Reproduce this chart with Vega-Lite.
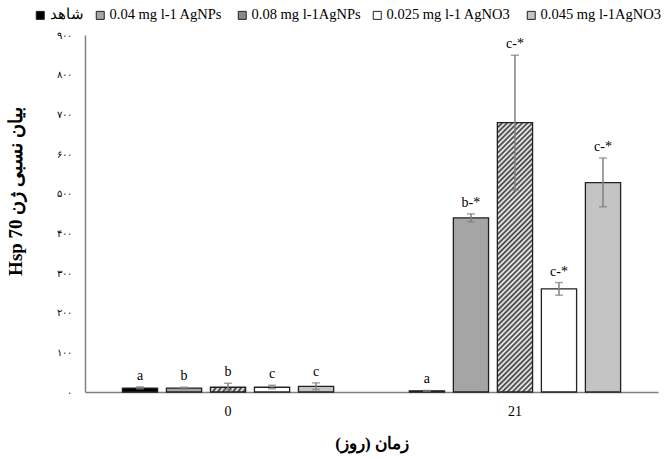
{
  "$schema": "https://vega.github.io/schema/vega-lite/v6.json",
  "width": 573,
  "height": 357,
  "autosize": "none",
  "padding": {"left": 85, "top": 35, "right": 9, "bottom": 67},
  "background": "white",
  "config": {"font": "Liberation Serif", "view": {"stroke": null}, "axisY": {"labelOverlap": false}, "axis": {"labelOverlap": false}},
  "data": {
    "values": [
      {"time": "0", "treatment": "شاهد", "mean": 10, "low": 8, "high": 13, "label": "a"},
      {"time": "0", "treatment": "0.04  mg l-1 AgNPs", "mean": 10, "low": 8, "high": 12, "label": "b"},
      {"time": "0", "treatment": "0.08 mg l-1AgNPs", "mean": 12, "low": 5, "high": 22, "label": "b"},
      {"time": "0", "treatment": "0.025  mg l-1 AgNO3", "mean": 12, "low": 8, "high": 17, "label": "c"},
      {"time": "0", "treatment": "0.045 mg l-1AgNO3", "mean": 14, "low": 6, "high": 23, "label": "c"},
      {"time": "21", "treatment": "شاهد", "mean": 3, "low": 2, "high": 4, "label": "a"},
      {"time": "21", "treatment": "0.04  mg l-1 AgNPs", "mean": 439, "low": 429, "high": 449, "label": "b-*"},
      {"time": "21", "treatment": "0.08 mg l-1AgNPs", "mean": 679, "low": 509, "high": 849, "label": "c-*"},
      {"time": "21", "treatment": "0.025  mg l-1 AgNO3", "mean": 260, "low": 244, "high": 276, "label": "c-*"},
      {"time": "21", "treatment": "0.045 mg l-1AgNO3", "mean": 528, "low": 467, "high": 590, "label": "c-*"}
    ]
  },
  "encoding": {
    "x": {
      "field": "time",
      "type": "nominal",
      "sort": ["0", "21"],
      "scale": {"paddingInner": 0.233, "paddingOuter": 0.115},
      "title": "\u202bزمان (روز)\u202c",
      "axis": {
        "labelAngle": 0,
        "domainColor": "#808080",
        "domainWidth": 1.5,
        "ticks": false,
        "labelFont": "Liberation Serif",
        "labelFontSize": 14,
        "labelPadding": 12,
        "labelColor": "#000",
        "titleFontSize": 17,
        "titleFontWeight": "bold",
        "titlePadding": 17,
        "titleColor": "#000"
      }
    },
    "xOffset": {
      "field": "treatment",
      "type": "nominal",
      "sort": ["شاهد", "0.04  mg l-1 AgNPs", "0.08 mg l-1AgNPs", "0.025  mg l-1 AgNO3", "0.045 mg l-1AgNO3"],
      "scale": {"paddingInner": 0.2, "paddingOuter": 0.1}
    },
    "y": {
      "type": "quantitative",
      "scale": {"domain": [0, 900], "nice": false},
      "title": "\u202bبیان نسبی ژن Hsp 70\u202c",
      "axis": {
        "values": [0, 100, 200, 300, 400, 500, 600, 700, 800, 900],
        "labelExpr": "['۰','۱۰۰','۲۰۰','۳۰۰','۴۰۰','۵۰۰','۶۰۰','۷۰۰','۸۰۰','۹۰۰'][round(datum.value/100)]",
        "labelOverlap": false,
        "grid": false,
        "ticks": false,
        "domainColor": "#808080",
        "domainWidth": 1.5,
        "labelFontSize": 10,
        "labelPadding": 14,
        "labelColor": "#000",
        "titleFontSize": 19,
        "titleFontWeight": "bold",
        "titleColor": "#000",
        "titleX": -60,
        "titleY": 156
      }
    }
  },
  "layer": [
    {
      "mark": {"type": "bar", "stroke": "#222", "strokeWidth": 1.3},
      "encoding": {
        "y": {"field": "mean"},
        "fill": {
          "field": "treatment",
          "type": "nominal",
          "sort": ["شاهد", "0.04  mg l-1 AgNPs", "0.08 mg l-1AgNPs", "0.025  mg l-1 AgNO3", "0.045 mg l-1AgNO3"],
          "scale": {
            "domain": ["شاهد", "0.04  mg l-1 AgNPs", "0.08 mg l-1AgNPs", "0.025  mg l-1 AgNO3", "0.045 mg l-1AgNO3"],
            "range": ["#000000", "#a5a5a5", "#888888", "#ffffff", "#c4c4c4"]
          },
          "legend": {
            "title": null,
            "orient": "none",
            "legendX": -52,
            "legendY": -27,
            "direction": "horizontal",
            "symbolType": "square",
            "symbolSize": 64,
            "symbolStrokeColor": "#222",
            "symbolStrokeWidth": 1,
            "labelFont": "Liberation Serif",
            "labelFontSize": 14.5,
            "labelColor": "#000",
            "labelOffset": 2,
            "labelLimit": 300,
            "columnPadding": 9
          },
          "condition": {
            "test": "datum.treatment === '0.08 mg l-1AgNPs'",
            "value": {
              "gradient": "linear",
              "x1": 0, "y1": 0, "x2": 0.1457, "y2": 1.112,
              "stops": [
                {"offset": 0, "color": "#333"}, {"offset": 0.0083, "color": "#fff"}, {"offset": 0.0167, "color": "#333"}, {"offset": 0.025, "color": "#fff"},
                {"offset": 0.0333, "color": "#333"}, {"offset": 0.0417, "color": "#fff"}, {"offset": 0.05, "color": "#333"}, {"offset": 0.0583, "color": "#fff"},
                {"offset": 0.0667, "color": "#333"}, {"offset": 0.075, "color": "#fff"}, {"offset": 0.0833, "color": "#333"}, {"offset": 0.0917, "color": "#fff"},
                {"offset": 0.1, "color": "#333"}, {"offset": 0.1083, "color": "#fff"}, {"offset": 0.1167, "color": "#333"}, {"offset": 0.125, "color": "#fff"},
                {"offset": 0.1333, "color": "#333"}, {"offset": 0.1417, "color": "#fff"}, {"offset": 0.15, "color": "#333"}, {"offset": 0.1583, "color": "#fff"},
                {"offset": 0.1667, "color": "#333"}, {"offset": 0.175, "color": "#fff"}, {"offset": 0.1833, "color": "#333"}, {"offset": 0.1917, "color": "#fff"},
                {"offset": 0.2, "color": "#333"}, {"offset": 0.2083, "color": "#fff"}, {"offset": 0.2167, "color": "#333"}, {"offset": 0.225, "color": "#fff"},
                {"offset": 0.2333, "color": "#333"}, {"offset": 0.2417, "color": "#fff"}, {"offset": 0.25, "color": "#333"}, {"offset": 0.2583, "color": "#fff"},
                {"offset": 0.2667, "color": "#333"}, {"offset": 0.275, "color": "#fff"}, {"offset": 0.2833, "color": "#333"}, {"offset": 0.2917, "color": "#fff"},
                {"offset": 0.3, "color": "#333"}, {"offset": 0.3083, "color": "#fff"}, {"offset": 0.3167, "color": "#333"}, {"offset": 0.325, "color": "#fff"},
                {"offset": 0.3333, "color": "#333"}, {"offset": 0.3417, "color": "#fff"}, {"offset": 0.35, "color": "#333"}, {"offset": 0.3583, "color": "#fff"},
                {"offset": 0.3667, "color": "#333"}, {"offset": 0.375, "color": "#fff"}, {"offset": 0.3833, "color": "#333"}, {"offset": 0.3917, "color": "#fff"},
                {"offset": 0.4, "color": "#333"}, {"offset": 0.4083, "color": "#fff"}, {"offset": 0.4167, "color": "#333"}, {"offset": 0.425, "color": "#fff"},
                {"offset": 0.4333, "color": "#333"}, {"offset": 0.4417, "color": "#fff"}, {"offset": 0.45, "color": "#333"}, {"offset": 0.4583, "color": "#fff"},
                {"offset": 0.4667, "color": "#333"}, {"offset": 0.475, "color": "#fff"}, {"offset": 0.4833, "color": "#333"}, {"offset": 0.4917, "color": "#fff"},
                {"offset": 0.5, "color": "#333"}, {"offset": 0.5083, "color": "#fff"}, {"offset": 0.5167, "color": "#333"}, {"offset": 0.525, "color": "#fff"},
                {"offset": 0.5333, "color": "#333"}, {"offset": 0.5417, "color": "#fff"}, {"offset": 0.55, "color": "#333"}, {"offset": 0.5583, "color": "#fff"},
                {"offset": 0.5667, "color": "#333"}, {"offset": 0.575, "color": "#fff"}, {"offset": 0.5833, "color": "#333"}, {"offset": 0.5917, "color": "#fff"},
                {"offset": 0.6, "color": "#333"}, {"offset": 0.6083, "color": "#fff"}, {"offset": 0.6167, "color": "#333"}, {"offset": 0.625, "color": "#fff"},
                {"offset": 0.6333, "color": "#333"}, {"offset": 0.6417, "color": "#fff"}, {"offset": 0.65, "color": "#333"}, {"offset": 0.6583, "color": "#fff"},
                {"offset": 0.6667, "color": "#333"}, {"offset": 0.675, "color": "#fff"}, {"offset": 0.6833, "color": "#333"}, {"offset": 0.6917, "color": "#fff"},
                {"offset": 0.7, "color": "#333"}, {"offset": 0.7083, "color": "#fff"}, {"offset": 0.7167, "color": "#333"}, {"offset": 0.725, "color": "#fff"},
                {"offset": 0.7333, "color": "#333"}, {"offset": 0.7417, "color": "#fff"}, {"offset": 0.75, "color": "#333"}, {"offset": 0.7583, "color": "#fff"},
                {"offset": 0.7667, "color": "#333"}, {"offset": 0.775, "color": "#fff"}, {"offset": 0.7833, "color": "#333"}, {"offset": 0.7917, "color": "#fff"},
                {"offset": 0.8, "color": "#333"}, {"offset": 0.8083, "color": "#fff"}, {"offset": 0.8167, "color": "#333"}, {"offset": 0.825, "color": "#fff"},
                {"offset": 0.8333, "color": "#333"}, {"offset": 0.8417, "color": "#fff"}, {"offset": 0.85, "color": "#333"}, {"offset": 0.8583, "color": "#fff"},
                {"offset": 0.8667, "color": "#333"}, {"offset": 0.875, "color": "#fff"}, {"offset": 0.8833, "color": "#333"}, {"offset": 0.8917, "color": "#fff"},
                {"offset": 0.9, "color": "#333"}, {"offset": 0.9083, "color": "#fff"}, {"offset": 0.9167, "color": "#333"}, {"offset": 0.925, "color": "#fff"},
                {"offset": 0.9333, "color": "#333"}, {"offset": 0.9417, "color": "#fff"}, {"offset": 0.95, "color": "#333"}, {"offset": 0.9583, "color": "#fff"},
                {"offset": 0.9667, "color": "#333"}, {"offset": 0.975, "color": "#fff"}, {"offset": 0.9833, "color": "#333"}, {"offset": 0.9917, "color": "#fff"},
                {"offset": 1, "color": "#333"}
              ]
            }
          }
        }
      }
    },
    {
      "mark": {"type": "rule", "color": "#7f7f7f", "strokeWidth": 1.5},
      "encoding": {
        "y": {"field": "low"},
        "y2": {"field": "high"}
      }
    },
    {
      "mark": {"type": "tick", "orient": "horizontal", "color": "#7f7f7f", "size": 8, "thickness": 1.5},
      "encoding": {"y": {"field": "low"}}
    },
    {
      "mark": {"type": "tick", "orient": "horizontal", "color": "#7f7f7f", "size": 8, "thickness": 1.5},
      "encoding": {"y": {"field": "high"}}
    },
    {
      "mark": {"type": "text", "baseline": "bottom", "dy": -4, "fontSize": 14, "fill": "#000", "font": "Liberation Serif"},
      "encoding": {
        "y": {"field": "high"},
        "text": {"field": "label"}
      }
    }
  ]
}
